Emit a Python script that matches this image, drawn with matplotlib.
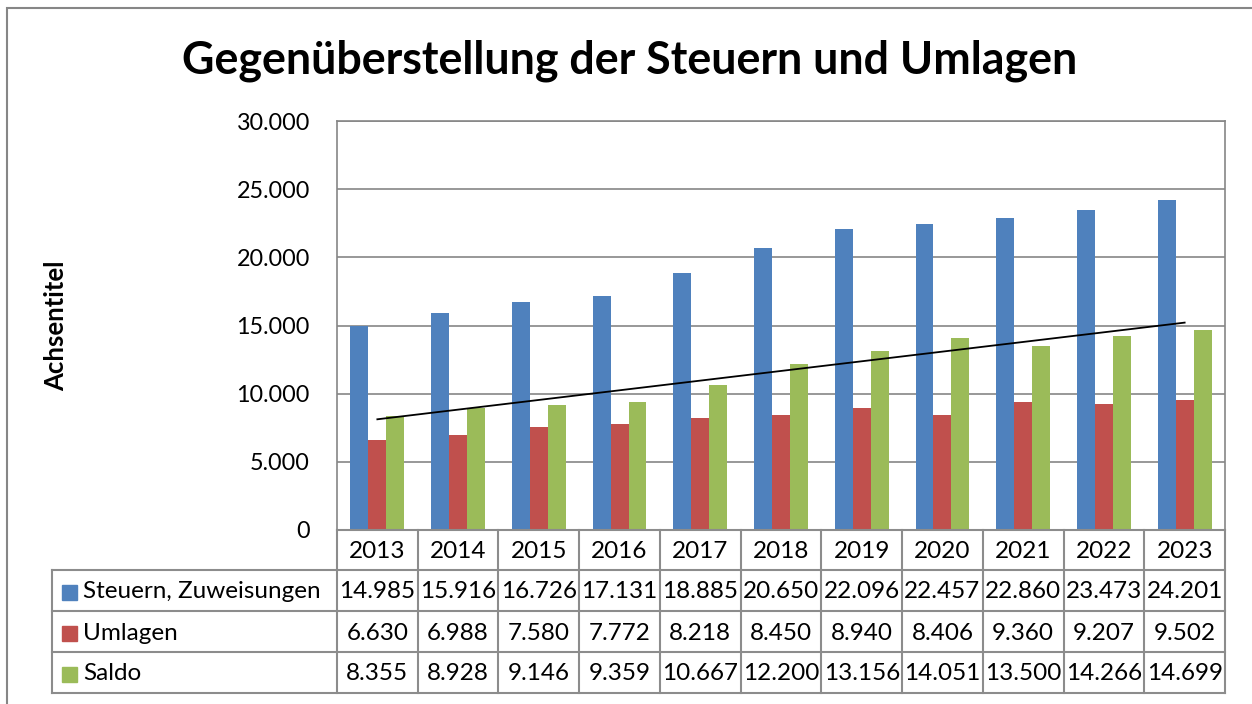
import numpy as np
import matplotlib
matplotlib.use("Agg")
import matplotlib.pyplot as plt
from matplotlib.lines import Line2D
from matplotlib.patches import Rectangle

# ------------------------------------------------------------------
# Data
# ------------------------------------------------------------------
years = [2013, 2014, 2015, 2016, 2017, 2018, 2019, 2020, 2021, 2022, 2023]
steuern = [14985, 15916, 16726, 17131, 18885, 20650, 22096, 22457, 22860, 23473, 24201]
umlagen = [6630, 6988, 7580, 7772, 8218, 8450, 8940, 8406, 9360, 9207, 9502]
saldo = [8355, 8928, 9146, 9359, 10667, 12200, 13156, 14051, 13500, 14266, 14699]
series_names = ["Steuern, Zuweisungen", "Umlagen", "Saldo"]
colors = ["#4F81BD", "#C0504D", "#9BBB59"]

W, H = 1252, 704
plt.rcParams['font.family'] = ['Lato', 'DejaVu Sans']
FS = 17.5

def fx(x):
    return x / W

def fy(y):
    return 1 - y / H

def fmt(v):
    return f"{v:,}".replace(",", ".")

fig = plt.figure(figsize=(W / 100, H / 100), dpi=100)

# outer chart border
fig.add_artist(Rectangle((fx(7), fy(720)), fx(1270 - 7), (720 - 8) / H,
                         fill=False, edgecolor="#868686", linewidth=1.5,
                         transform=fig.transFigure))

# plot area
L, R, T, B = 337, 1225, 121, 530
ax = fig.add_axes([fx(L), fy(B), fx(R - L), (B - T) / H])
n = len(years)
x = np.arange(n)
bw = 0.2222
all_series = [steuern, umlagen, saldo]
for i, (vals, c) in enumerate(zip(all_series, colors)):
    ax.bar(x + (i - 1) * bw, vals, width=bw, color=c, zorder=3)

# linear trend of Saldo
k, d = np.polyfit(x, saldo, 1)
ax.plot(x, k * x + d, color="black", linewidth=1.3, zorder=4)

ax.set_xlim(-0.5, n - 0.5)
ax.set_ylim(0, 30000)
ax.set_yticks(np.arange(0, 30001, 5000))
ax.set_yticklabels([fmt(v) for v in range(0, 30001, 5000)], fontsize=16.8)
ax.set_xticks([])
ax.tick_params(axis="y", length=0, pad=19.5)
ax.grid(axis="y", color="#868686", linewidth=1.2, zorder=0)
for s in ax.spines.values():
    s.set_color("#868686")
    s.set_linewidth(1.2)

ax.set_ylabel("Achsentitel", fontsize=18.5, fontweight="bold", labelpad=0)
ax.yaxis.set_label_coords((68 - L) / (R - L), 0.5)

fig.text(fx(630), fy(61), "Gegenüberstellung der Steuern und Umlagen",
         ha="center", va="center", fontsize=32.2, fontweight="bold")

# ------------------------------------------------------------------
# Data table
# ------------------------------------------------------------------
lc = "#8C8C8C"
TL = 52
rows_y = [530, 570, 611, 652, 693]
colw = (R - L) / n

def hline(y, x0, x1):
    fig.add_artist(Line2D([fx(x0), fx(x1)], [fy(y), fy(y)], color=lc,
                          linewidth=1.5, transform=fig.transFigure))

def vline(xp, y0, y1):
    fig.add_artist(Line2D([fx(xp), fx(xp)], [fy(y0), fy(y1)], color=lc,
                          linewidth=1.5, transform=fig.transFigure))

hline(rows_y[0], L, R)
for y in rows_y[1:]:
    hline(y, TL, R)
vline(TL, rows_y[1], rows_y[-1])
for j in range(n + 1):
    vline(L + j * colw, rows_y[0], rows_y[-1])

for j, yr in enumerate(years):
    cx = L + (j + 0.5) * colw
    fig.text(fx(cx), fy((rows_y[0] + rows_y[1]) / 2 + 1.5), str(yr),
             ha="center", va="center", fontsize=FS)

for r, (name, vals, c) in enumerate(zip(series_names, all_series, colors)):
    cy = (rows_y[r + 1] + rows_y[r + 2]) / 2 + 1.5
    fig.add_artist(Rectangle((fx(62), fy(cy + 7.5)), 15 / W, 15 / H,
                             color=c, transform=fig.transFigure))
    fig.text(fx(83), fy(cy), name, ha="left", va="center", fontsize=FS)
    for j, v in enumerate(vals):
        cx = L + (j + 0.5) * colw
        fig.text(fx(cx), fy(cy), fmt(v), ha="center", va="center", fontsize=FS)

fig.savefig("out.png", dpi=100)
